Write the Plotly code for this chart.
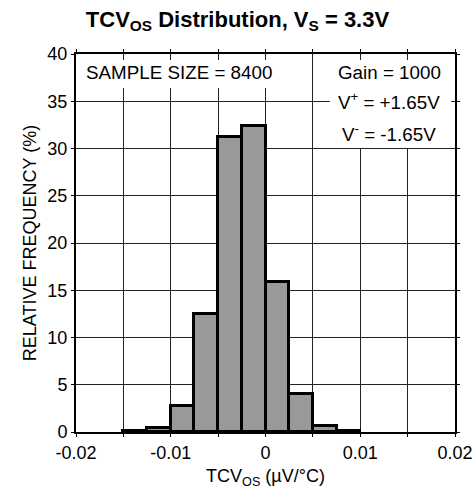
import plotly.graph_objects as go

# Data
bin_centers = [-0.01375, -0.01125, -0.00875, -0.00625, -0.00375, -0.00125,
               0.00125, 0.00375, 0.00625, 0.00875]
rel_freq = [0.1, 0.4, 2.8, 12.5, 31.2, 32.4, 15.9, 4.0, 0.65, 0.15]
bin_width = 0.0025

x_tickvals = [-0.02, -0.01, 0, 0.01, 0.02]
x_ticktext = ["-0.02", "-0.01", "0", "0.01", "0.02"]
y_tickvals = [0, 5, 10, 15, 20, 25, 30, 35, 40]

FONT = "Liberation Sans, Arial, sans-serif"

fig = go.Figure()
fig.add_trace(go.Bar(
    x=bin_centers, y=rel_freq, width=[bin_width] * len(bin_centers),
    marker=dict(color="#999999", line=dict(color="black", width=3)),
    showlegend=False,
))

# white background boxes behind the text blocks
fig.add_shape(type="rect", xref="x domain", yref="y domain",
              x0=0.006, x1=0.56, y0=0.91, y1=0.984,
              fillcolor="white", line=dict(width=0), layer="above")
fig.add_shape(type="rect", xref="x domain", yref="y domain",
              x0=0.67, x1=0.99, y0=0.751, y1=0.984,
              fillcolor="white", line=dict(width=0), layer="above")

afont = dict(family=FONT, size=18.8, color="black")
fig.add_annotation(xref="x domain", yref="y domain", x=0.022, y=0.952,
                   xanchor="left", yanchor="middle", showarrow=False,
                   text="SAMPLE SIZE = 8400", font=afont)
fig.add_annotation(xref="x domain", yref="y domain", x=0.827, y=0.95,
                   xanchor="center", yanchor="middle", showarrow=False,
                   text="Gain = 1000", font=afont)
fig.add_annotation(xref="x domain", yref="y domain", x=0.827, y=0.875,
                   xanchor="center", yanchor="middle", showarrow=False,
                   text="V<sup>+</sup> = +1.65V", font=afont)
fig.add_annotation(xref="x domain", yref="y domain", x=0.827, y=0.792,
                   xanchor="center", yanchor="middle", showarrow=False,
                   text="V<sup>-</sup> = -1.65V", font=afont)

fig.update_layout(
    width=475, height=499,
    margin=dict(l=76, r=20, t=54, b=67),
    paper_bgcolor="white", plot_bgcolor="white",
    bargap=0,
    font=dict(family=FONT, size=18, color="black"),
    title=dict(text="<b>TCV<sub>OS</sub> Distribution, V<sub>S</sub> = 3.3V</b>",
               x=0.5, xanchor="center", y=0.962, yanchor="middle",
               font=dict(family=FONT, size=22, color="black")),
)
fig.update_xaxes(
    range=[-0.02, 0.02], tickvals=x_tickvals, ticktext=x_ticktext,
    showgrid=True, gridcolor="#222222", gridwidth=1,
    minor=dict(dtick=0.005, tick0=0, showgrid=True, gridcolor="#222222",
               gridwidth=1, ticks="outside", ticklen=3, tickcolor="black"),
    showline=True, linecolor="black", linewidth=2, mirror="ticks",
    ticks="outside", ticklen=3, tickcolor="black",
    zeroline=False, tickfont=dict(size=18), automargin=False,
    title=dict(text="TCV<sub>OS</sub> (µV/°C)", font=dict(size=18), standoff=8),
)
fig.update_yaxes(
    range=[0, 40], tickvals=y_tickvals,
    showgrid=True, gridcolor="#222222", gridwidth=1,
    showline=True, linecolor="black", linewidth=2, mirror="ticks",
    ticks="outside", ticklen=3, tickcolor="black",
    zeroline=False, tickfont=dict(size=18), automargin=False,
    title=dict(text="RELATIVE FREQUENCY (%)", font=dict(size=18), standoff=6),
)

fig.write_html("out.html")
